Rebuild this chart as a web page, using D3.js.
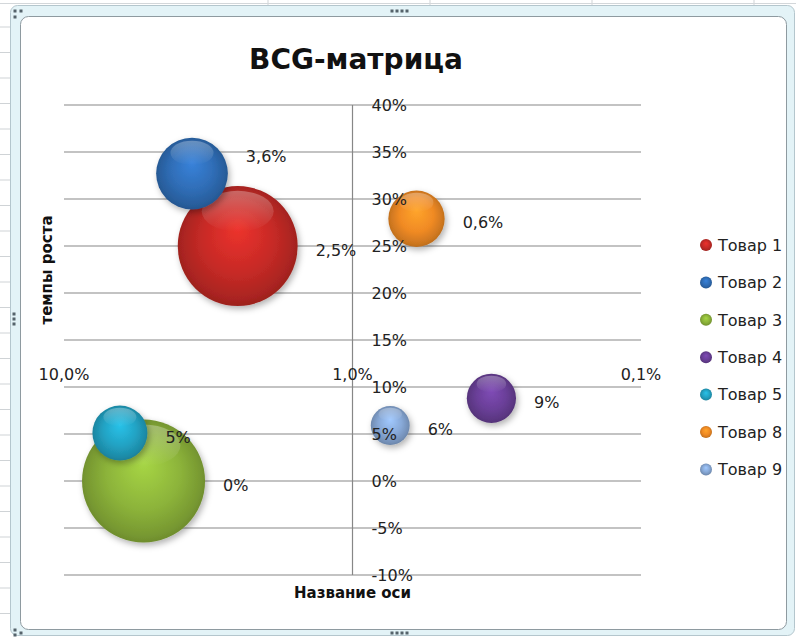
<!DOCTYPE html>
<html lang="ru">
<head>
<meta charset="UTF-8">
<title>BCG-матрица</title>
<script src="https://d3js.org/d3.v7.min.js"></script>
<style>
    body {
        margin: 0;
        padding: 0;
        background: #fff;
        font-family: "DejaVu Sans", sans-serif;
    }
    #chart { display: block; }
    .tick-label { font-size: 16px; fill: #222; }
    .data-label { font-size: 16px; fill: #222; }
    .legend-text { font-size: 16px; fill: #222; }
    .axis-title { font-size: 15px; font-weight: bold; fill: #111; }
    .grid { stroke: #878787; stroke-width: 1.2px; }
</style>
</head>
<body>
<svg id="chart"></svg>
<script>
    // chart values
    const products = ['Товар 1', 'Товар 2', 'Товар 3', 'Товар 4', 'Товар 5', 'Товар 8', 'Товар 9'];
    const marketShare = [0.025, 0.036, 0.053, 0.0033, 0.064, 0.006, 0.0074];   // x, log scale
    const growthRate = [0.25, 0.327, 0.0, 0.088, 0.051, 0.279, 0.059];        // y
    const bubbleSize = [95, 34, 100, 16, 20, 21, 10];
    const pointLabels = ['2,5%', '3,6%', '0%', '9%', '5%', '0,6%', '6%'];
    const colors = ['#c62a26', '#2f6db6', '#8cb33a', '#6a3f98', '#22a2c3', '#f08a24', '#87a8d6'];
    const yTicks = [-0.10, -0.05, 0, 0.05, 0.10, 0.15, 0.20, 0.25, 0.30, 0.35, 0.40];
    const xTicks = [0.10, 0.01, 0.001];

    const W = 796, H = 637;
    const svg = d3.select('#chart').attr('width', W).attr('height', H);

    // --- spreadsheet background & selected chart frame ---
    const bg = svg.append('g');
    d3.range(27, H, 25.5).forEach(y => {
        bg.append('line').attr('x1', 0).attr('x2', 10).attr('y1', y).attr('y2', y)
            .attr('stroke', '#cfd3d6');
    });
    [268, 430, 592, 754].forEach(x => {
        bg.append('line').attr('x1', x).attr('x2', x).attr('y1', 0).attr('y2', 5)
            .attr('stroke', '#cfd3d6');
    });
    bg.append('line').attr('x1', 0).attr('x2', W).attr('y1', 3.5).attr('y2', 3.5)
        .attr('stroke', '#d3d7da');

    bg.append('rect')
        .attr('x', 10.5).attr('y', 5.5).attr('width', 784).attr('height', 630)
        .attr('rx', 7)
        .attr('fill', '#e3f3f7').attr('stroke', '#b4c6cd');
    bg.append('rect')
        .attr('x', 20.5).attr('y', 16.5).attr('width', 766).attr('height', 613)
        .attr('rx', 8)
        .attr('fill', '#fff').attr('stroke', '#8e9aa0');

    // handles (little dots)
    const dots = [[15, 11], [21, 11], [15, 17], [392, 11], [397, 11], [402, 11], [407, 11],
        [392, 633], [397, 633], [402, 633], [407, 633], [15, 630], [21, 633], [15, 635],
        [14, 314], [14, 319], [14, 324]];
    bg.selectAll('rect.dot').data(dots).join('rect')
        .attr('class', 'dot')
        .attr('x', d => d[0] - 1.5).attr('y', d => d[1] - 1.5)
        .attr('width', 3).attr('height', 3)
        .attr('fill', '#55636b');

    // --- scales ---
    const x = d3.scaleLog().domain([0.10, 0.001]).range([64, 641]);
    const y = d3.scaleLinear().domain([-0.10, 0.40]).range([575, 105]);
    const r = d3.scaleSqrt().domain([0, d3.max(bubbleSize)]).range([0, 61.5]);

    // gradients and shadow for the 3D bubbles
    const defs = svg.append('defs');
    colors.forEach((c, i) => {
        const g = defs.append('radialGradient')
            .attr('id', 'grad' + i)
            .attr('cx', '50%').attr('cy', '50%').attr('r', '55%')
            .attr('fx', '50%').attr('fy', '35%');
        g.append('stop').attr('offset', '0%').attr('stop-color', d3.color(c).brighter(0.5));
        g.append('stop').attr('offset', '55%').attr('stop-color', c);
        g.append('stop').attr('offset', '85%').attr('stop-color', d3.color(c).darker(0.45));
        g.append('stop').attr('offset', '100%').attr('stop-color', d3.color(c).darker(0.9));
    });
    const shine = defs.append('linearGradient')
        .attr('id', 'shine').attr('x1', 0).attr('x2', 0).attr('y1', 0).attr('y2', 1);
    shine.append('stop').attr('offset', '0%').attr('stop-color', '#fff').attr('stop-opacity', 0.3);
    shine.append('stop').attr('offset', '100%').attr('stop-color', '#fff').attr('stop-opacity', 0);

    const shadow = defs.append('filter').attr('id', 'shadow')
        .attr('x', '-30%').attr('y', '-30%').attr('width', '160%').attr('height', '160%');
    shadow.append('feDropShadow')
        .attr('dx', 2).attr('dy', 3).attr('stdDeviation', 3)
        .attr('flood-color', '#000').attr('flood-opacity', 0.3);

    const chart = svg.append('g');

    // horizontal gridlines
    chart.selectAll('line.grid').data(yTicks).join('line')
        .attr('class', 'grid')
        .attr('x1', x.range()[0]).attr('x2', x.range()[1])
        .attr('y1', d => y(d)).attr('y2', d => y(d));

    // vertical axis crossing at 1%
    chart.append('line')
        .attr('class', 'grid')
        .attr('x1', x(0.01)).attr('x2', x(0.01))
        .attr('y1', y(0.40)).attr('y2', y(-0.10));

    // bubbles
    const idx = d3.range(products.length);
    const bubbles = chart.selectAll('g.bubble').data(idx).join('g').attr('class', 'bubble');
    bubbles.append('circle')
        .attr('cx', i => x(marketShare[i]))
        .attr('cy', i => y(growthRate[i]))
        .attr('r', i => r(bubbleSize[i]))
        .attr('fill', i => `url(#grad${i})`)
        .attr('filter', 'url(#shadow)');
    bubbles.append('ellipse')
        .attr('cx', i => x(marketShare[i]))
        .attr('cy', i => y(growthRate[i]) - r(bubbleSize[i]) * 0.58)
        .attr('rx', i => r(bubbleSize[i]) * 0.6)
        .attr('ry', i => r(bubbleSize[i]) * 0.34)
        .attr('fill', 'url(#shine)');

    // data labels to the right of each bubble
    const labelNudge = [0, -21, 0, 0, 0, 0, 0];
    chart.selectAll('text.data-label').data(idx).join('text')
        .attr('class', 'data-label')
        .attr('x', i => x(marketShare[i]) + r(bubbleSize[i]) + 18)
        .attr('y', i => y(growthRate[i]) + labelNudge[i])
        .attr('dy', '0.6em')
        .text(i => pointLabels[i]);

    // y tick labels, right of the vertical axis
    const pct = d3.format('.0%');
    chart.selectAll('text.ytick').data(yTicks).join('text')
        .attr('class', 'tick-label ytick')
        .attr('x', x(0.01) + 19)
        .attr('y', d => y(d))
        .attr('dy', '0.36em')
        .text(d => pct(d).replace('−', '-'));

    // x tick labels (log scale, comma decimal)
    chart.selectAll('text.xtick').data(xTicks).join('text')
        .attr('class', 'tick-label xtick')
        .attr('text-anchor', 'middle')
        .attr('x', d => x(d))
        .attr('y', y(0.10) - 13)
        .attr('dy', '0.36em')
        .text(d => d3.format('.1%')(d).replace('.', ','));

    // titles
    svg.append('text')
        .attr('x', 356).attr('y', 69)
        .attr('text-anchor', 'middle')
        .style('font-size', '28px').style('font-weight', 'bold').style('fill', '#111')
        .text('BCG-матрица');

    svg.append('text')
        .attr('class', 'axis-title')
        .attr('text-anchor', 'middle')
        .attr('x', x(0.01)).attr('y', 598)
        .text('Название оси');

    svg.append('text')
        .attr('class', 'axis-title')
        .attr('text-anchor', 'middle')
        .attr('transform', 'translate(52,270) rotate(-90)')
        .text('темпы роста');

    // legend
    const legend = svg.append('g').attr('transform', 'translate(706,245)');
    const item = legend.selectAll('g').data(idx).join('g')
        .attr('transform', i => `translate(0,${i * 37.4})`);
    item.append('circle').attr('r', 6).attr('fill', i => `url(#grad${i})`);
    item.append('text')
        .attr('class', 'legend-text')
        .attr('x', 12).attr('dy', '0.36em')
        .text(i => products[i]);
</script>
</body>
</html>
